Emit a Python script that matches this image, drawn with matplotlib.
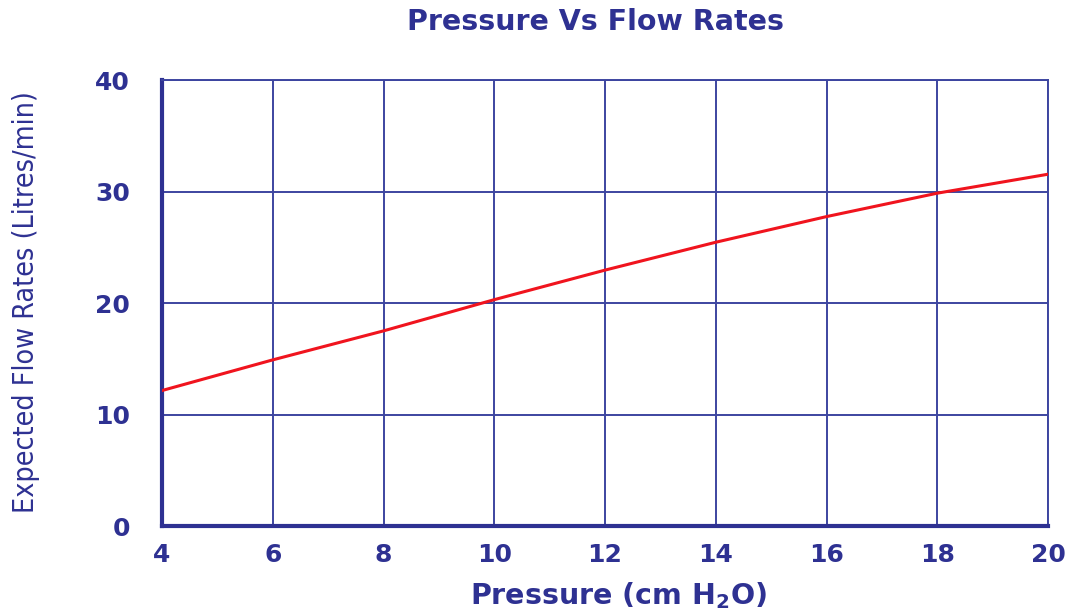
import matplotlib.pyplot as plt

# values
pressure = [4, 6, 8, 10, 12, 14, 16, 18, 20]
flow_rate = [12.15, 14.9, 17.5, 20.3, 22.95, 25.45, 27.75, 29.85, 31.55]

x_ticks = [4, 6, 8, 10, 12, 14, 16, 18, 20]
y_ticks = [0, 10, 20, 30, 40]

navy = '#2E3192'
grid_col = '#3D45A0'

fig = plt.figure(figsize=(10.75, 6.15), dpi=100)
ax = fig.add_axes([0.1507, 0.1447, 0.8242, 0.7252])

ax.plot(pressure, flow_rate, color='#F0141E', linewidth=2.2, zorder=3)

ax.set_xlim(4, 20)
ax.set_ylim(0, 40)
ax.set_xticks(x_ticks)
ax.set_yticks(y_ticks)
ax.grid(True, color=grid_col, linewidth=1.4)

for side in ['left', 'bottom']:
    ax.spines[side].set_color(navy)
    ax.spines[side].set_linewidth(3)
for side in ['right', 'top']:
    ax.spines[side].set_color(grid_col)
    ax.spines[side].set_linewidth(1.4)

ax.tick_params(length=0, colors=navy, labelsize=18)
ax.tick_params(axis='y', pad=23)
ax.tick_params(axis='x', pad=12)
for lab in ax.get_xticklabels() + ax.get_yticklabels():
    lab.set_fontweight('bold')

title = ax.set_title('Pressure Vs Flow Rates', color=navy, fontsize=20.5, fontweight='heavy', pad=36)
title.set_x(0.489)
ax.set_xlabel('Pressure (cm H$_\\mathbf{2}$O)', color=navy, fontsize=20.5, fontweight='heavy')
ax.xaxis.set_label_coords(0.515, -0.122)
ax.set_ylabel('Expected Flow Rates (Litres/min)', color=navy, fontsize=20.5,
              fontstretch='condensed')
ax.yaxis.set_label_coords(-0.1377, 0.502)

plt.savefig('out.png', dpi=100)
